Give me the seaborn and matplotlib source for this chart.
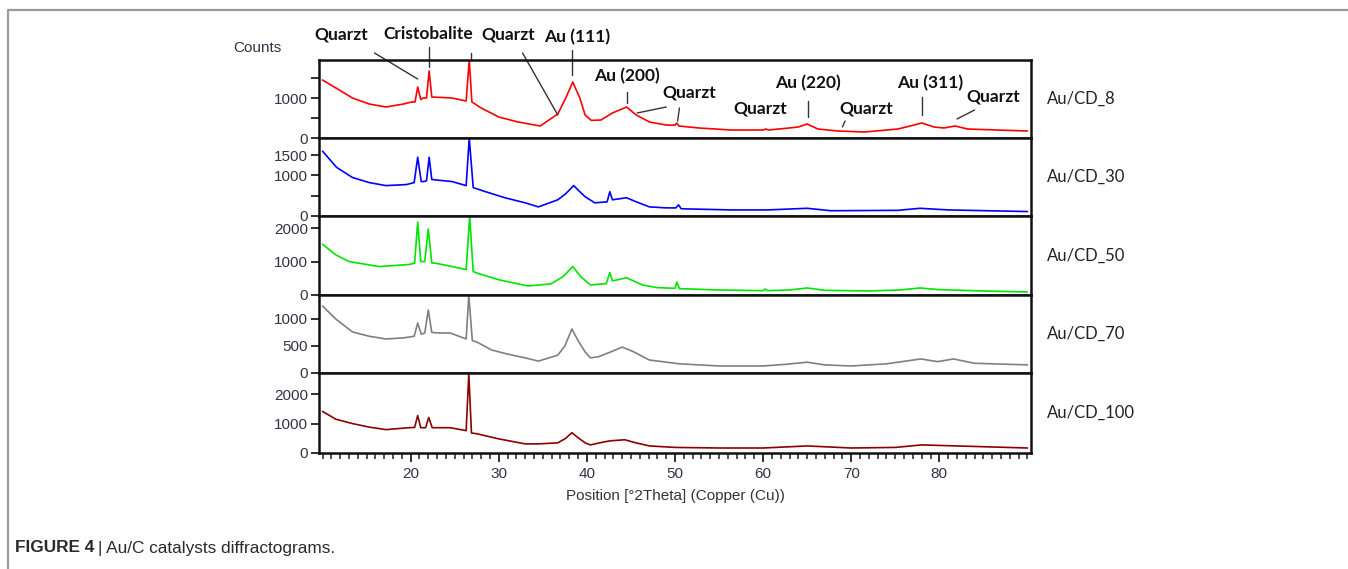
import numpy as np
import pandas as pd
import matplotlib
matplotlib.use("Agg")
import matplotlib.pyplot as plt
import seaborn as sns
from matplotlib.lines import Line2D
from matplotlib.ticker import MultipleLocator, FixedLocator

# ---------------- data ----------------
samples = ["Au/CD_8", "Au/CD_30", "Au/CD_50", "Au/CD_70", "Au/CD_100"]
colors = ["#ff0000", "#0000ff", "#00e600", "#808080", "#8b0000"]

theta_cd8 = [10.0, 11.9, 13.4, 15.3, 17.2, 19.2, 20.1, 20.5, 20.8, 21.15, 21.4, 21.8, 22.1, 22.4,
             24.7, 26.3, 26.65, 26.95, 28.0, 30.0, 32.2, 34.7, 36.7, 37.6, 38.4, 39.2, 39.8,
             40.5, 41.6, 42.9, 44.5, 45.6, 47.1, 49.0, 50.0, 50.2, 50.45, 52.7, 56.4,
             60.0, 60.3, 60.6, 62.5, 64.0, 65.0, 66.2, 68.5, 71.5, 75.3, 76.7, 78.0, 79.4,
             80.5, 81.8, 83.2, 86.6, 90.0]
counts_cd8 = [1450, 1200, 1000, 850, 775, 850, 900, 900, 1275, 960, 1000, 1000, 1675, 1025,
              1000, 925, 1950, 900, 750, 525, 400, 300, 600, 1000, 1400, 1000, 575,
              440, 450, 625, 775, 575, 400, 325, 320, 375, 300, 250, 200,
              200, 225, 200, 240, 275, 350, 225, 175, 150, 225, 300, 375, 275,
              250, 300, 225, 200, 175]

theta_cd30 = [10.0, 11.6, 13.4, 15.3, 17.2, 19.5, 20.4, 20.8, 21.2, 21.5, 21.8, 22.1, 22.4,
              24.7, 26.3, 26.65, 27.1, 28.5, 30.7, 33.0, 34.5, 36.7, 37.6, 38.5, 39.2, 39.8,
              40.9, 42.3, 42.6, 42.9, 44.5, 45.6, 47.1, 49.0, 50.1, 50.4, 50.7, 51.3, 56.4,
              60.5, 65.0, 67.7, 75.3, 77.8, 81.0, 90.0]
counts_cd30 = [1600, 1200, 950, 825, 750, 775, 825, 1450, 850, 850, 870, 1450, 900,
               850, 750, 1925, 700, 600, 450, 325, 225, 400, 550, 750, 600, 475,
               325, 350, 600, 400, 450, 350, 225, 200, 200, 275, 180, 175, 150,
               150, 190, 130, 140, 190, 150, 110]

theta_cd50 = [10.0, 11.5, 13.0, 16.4, 19.8, 20.45, 20.8, 21.15, 21.6, 22.0, 22.4, 23.0, 24.7,
              26.3, 26.7, 27.1, 27.7, 30.0, 33.3, 35.9, 37.3, 38.4, 39.3, 40.4, 42.2, 42.6,
              42.9, 44.5, 46.3, 48.0, 50.0, 50.2, 50.5, 55.0, 60.0, 60.2, 60.5, 63.0, 65.0,
              67.0, 72.0, 75.5, 77.8, 80.0, 85.0, 90.0]
counts_cd50 = [1515, 1200, 1000, 850, 910, 950, 2180, 1000, 1000, 1970, 960, 940, 850,
               760, 2350, 700, 640, 455, 270, 330, 550, 850, 550, 300, 340, 670,
               420, 515, 300, 220, 200, 390, 190, 150, 130, 180, 130, 150, 210,
               140, 120, 150, 210, 160, 120, 90]

theta_cd70 = [10.0, 11.5, 13.4, 15.3, 17.2, 19.2, 20.4, 20.8, 21.2, 21.6, 22.0, 22.4, 23.5,
              24.5, 26.3, 26.6, 27.0, 27.5, 29.2, 31.0, 33.0, 34.5, 36.7, 37.5, 38.3, 39.0,
              39.8, 40.4, 41.3, 42.7, 44.0, 45.2, 47.1, 50.5, 55.0, 60.0, 62.5, 65.0, 67.0,
              70.0, 74.0, 77.9, 79.8, 81.6, 84.0, 90.0]
counts_cd70 = [1240, 1000, 760, 680, 630, 650, 680, 925, 720, 740, 1165, 750, 740,
               740, 630, 1440, 600, 575, 425, 350, 280, 220, 330, 500, 815, 600,
               390, 280, 300, 390, 480, 400, 240, 170, 130, 130, 160, 200, 150,
               130, 170, 260, 210, 260, 180, 150]

theta_cd100 = [10.0, 11.5, 13.4, 15.3, 17.2, 19.8, 20.45, 20.8, 21.15, 21.7, 22.05, 22.45,
               24.5, 26.3, 26.6, 26.9, 27.5, 30.0, 33.0, 34.5, 36.7, 37.6, 38.3, 39.0, 39.8,
               40.4, 42.0, 42.7, 44.3, 45.5, 47.1, 50.0, 55.0, 60.0, 65.0, 70.0, 75.0, 78.0,
               82.0, 90.0]
counts_cd100 = [1415, 1150, 1000, 880, 795, 860, 870, 1275, 860, 860, 1210, 860,
                860, 760, 2700, 680, 655, 480, 310, 310, 345, 500, 690, 520, 345,
                275, 380, 415, 450, 350, 240, 190, 170, 170, 240, 170, 190, 275,
                240, 170]

thetas = [theta_cd8, theta_cd30, theta_cd50, theta_cd70, theta_cd100]
counts = [counts_cd8, counts_cd30, counts_cd50, counts_cd70, counts_cd100]

ylim_tops = [1950, 1925, 2360, 1444, 2720]
yticks = [[0, 500, 1000, 1500], [0, 500, 1000, 1500], [0, 1000, 2000], [0, 500, 1000], [0, 1000, 2000]]
ytick_labels = [["0", "", "1000", ""], ["0", "", "1000", "1500"], ["0", "1000", "2000"],
                ["0", "500", "1000"], ["0", "1000", "2000"]]
xticks_major = [20, 30, 40, 50, 60, 70, 80]

# annotations on the top panel: label, text position (2theta, counts), pointer segment
ann_labels = ["Quarzt", "Cristobalite", "Quarzt", "Au (111)", "Au (200)", "Quarzt",
              "Quarzt", "Au (220)", "Quarzt", "Au (311)", "Quarzt"]
ann_text_xy = [(12.1, 2575), (22.0, 2600), (31.1, 2575), (38.9, 2525), (44.5, 1550),
               (51.6, 1125), (59.7, 725), (65.1, 1375), (71.7, 725), (78.9, 1375), (86.1, 1025)]
ann_segments = [((15.9, 2125), (20.8, 1475)), ((22.1, 2275), (22.1, 1775)),
                ((26.8, 2125), (26.8, 1975)), ((32.7, 2125), (36.7, 575)),
                ((38.3, 2200), (38.3, 1575)), ((44.5, 1150), (44.5, 875)),
                ((45.7, 625), (49.0, 775)), ((50.5, 750), (50.3, 425)),
                ((65.1, 925), (65.1, 525)), ((69.3, 425), (69.0, 275)),
                ((78.0, 1025), (78.0, 575)), ((84.0, 700), (82.0, 475))]

# ---------------- figure ----------------
sns.set_theme(style="ticks")
plt.rcParams["font.family"] = ["Liberation Sans", "DejaVu Sans"]

W, H = 1348, 569
fig = plt.figure(figsize=(W / 100, H / 100), dpi=100)
panel_px = [(60, 138), (138, 216), (216, 295), (295, 373), (373, 453)]
left_px, right_px = 319, 1031
xlim = (9.6, 90.4)
tick_color = "#333344"

axes = []
for i, (top, bot) in enumerate(panel_px):
    ax = fig.add_axes([left_px / W, 1 - bot / H, (right_px - left_px) / W, (bot - top) / H])
    df = pd.DataFrame({"theta": thetas[i], "counts": counts[i]})
    sns.lineplot(data=df, x="theta", y="counts", ax=ax, color=colors[i], lw=1.2,
                 estimator=None, sort=True)
    ax.set_xlim(*xlim)
    ax.set_ylim(0, ylim_tops[i])
    ax.set_xlabel("")
    ax.set_ylabel("")
    ax.yaxis.set_major_locator(FixedLocator(yticks[i]))
    ax.set_yticklabels(ytick_labels[i])
    ax.tick_params(axis="y", direction="out", length=6, width=1.3, colors="#222222",
                   labelcolor=tick_color, labelsize=11, pad=2)
    for s in ax.spines.values():
        s.set_color("#111111")
        s.set_linewidth(1.8)
    if i < 4:
        ax.tick_params(axis="x", bottom=False, labelbottom=False)
    else:
        ax.xaxis.set_major_locator(FixedLocator(xticks_major))
        ax.xaxis.set_minor_locator(MultipleLocator(1))
        ax.tick_params(axis="x", which="major", direction="out", length=6.5, width=1.3,
                       colors="#222222", labelcolor=tick_color, labelsize=11, pad=3.5)
        ax.tick_params(axis="x", which="minor", direction="out", length=4.5, width=1.1,
                       colors="#222222")
        ax.set_xlabel("Position [°2Theta] (Copper (Cu))", fontsize=11, color=tick_color,
                      labelpad=6)
    ax.text(1.022, 0.5, samples[i], transform=ax.transAxes, ha="left", va="center",
            fontsize=12, color="#222222", family=["Lato", "DejaVu Sans"])
    axes.append(ax)

# annotations on the top panel
ax0 = axes[0]
for lab, (tx, ty) in zip(ann_labels, ann_text_xy):
    ax0.text(tx, ty, lab, ha="center", va="center", fontsize=12.5, fontweight="bold",
             color="#111111", family=["Lato", "DejaVu Sans"], clip_on=False)
for (x0, y0), (x1, y1) in ann_segments:
    ax0.plot([x0, x1], [y0, y1], color="#333333", lw=1.0, clip_on=False)

# y-axis title
fig.text(233 / W, 1 - 48 / H, "Counts", ha="left", va="center", fontsize=11, color=tick_color)

# outer frame (left + top)
fig.add_artist(Line2D([8 / W, 8 / W, 1.0], [0.0, 1 - 10 / H, 1 - 10 / H],
                      transform=fig.transFigure, color="#9a9a9a", lw=1.6))

# caption
cap1 = fig.text(15 / W, 1 - 548 / H, "FIGURE 4", ha="left", va="center", fontsize=12.4,
                fontweight="bold", color="#2a2a2a")
fig.canvas.draw()
bb = cap1.get_window_extent(renderer=fig.canvas.get_renderer())
fig.text((bb.x1 + 4) / W, 1 - 548 / H, "| Au/C catalysts diffractograms.", ha="left",
         va="center", fontsize=12.4, color="#2a2a2a")

fig.savefig("out.png", dpi=100)
